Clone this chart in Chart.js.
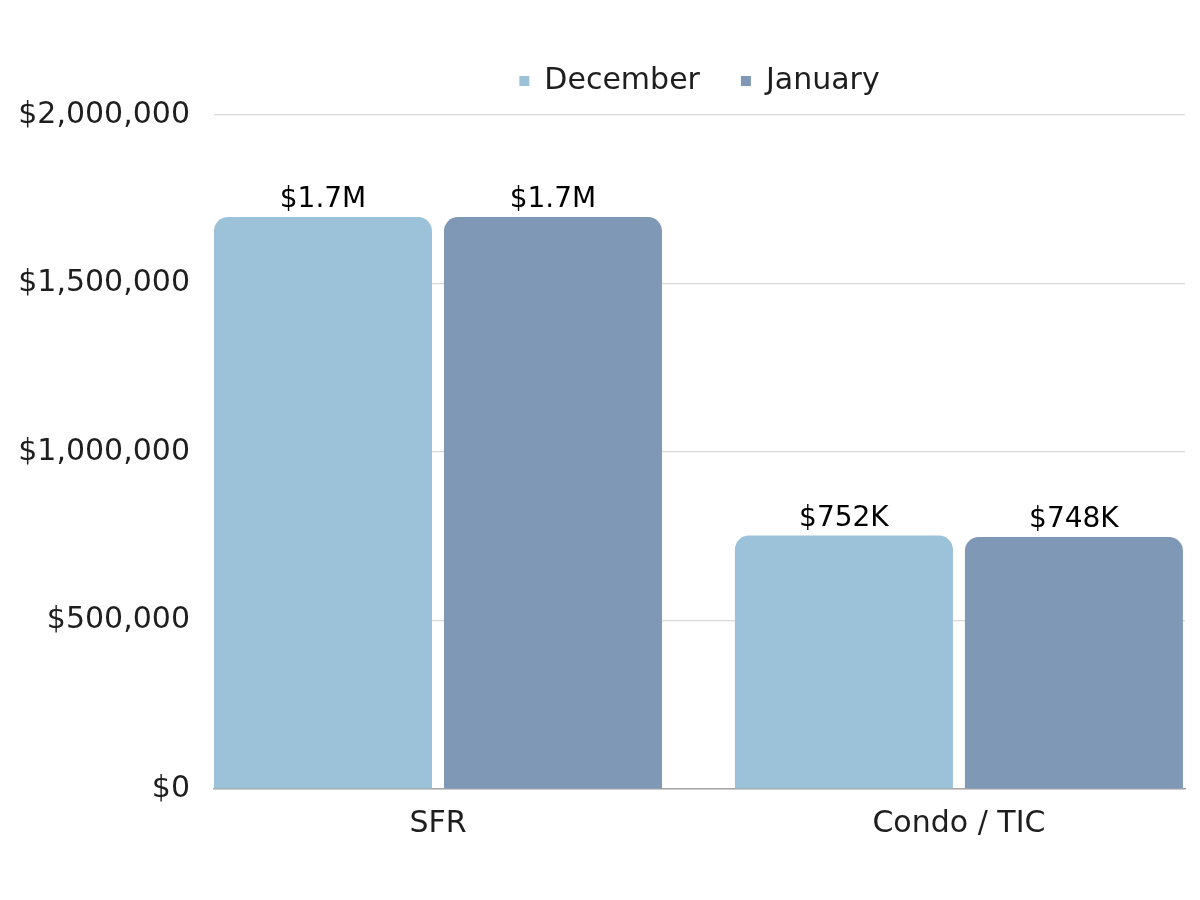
<!DOCTYPE html>
<html>
<head>
<meta charset="utf-8">
<style>
  html, body { margin: 0; padding: 0; background: #fff; }
  #wrap { width: 1200px; height: 900px; }
</style>
<script src="https://cdn.jsdelivr.net/npm/chart.js@4/dist/chart.umd.min.js"></script>
</head>
<body>
<div id="wrap"><canvas id="myChart" width="1200" height="900"></canvas></div>
<script>
const categories = ["SFR", "Condo / TIC"];
const seriesNames = ["December", "January"];
const decemberValues = [1697000, 752000];
const januaryValues = [1697000, 748000];
const yTicks = [0, 500000, 1000000, 1500000, 2000000];

const FONT = "'DejaVu Sans', sans-serif";
const TEXT = "#1e1e1e";

function shortMoney(v) {
  if (v >= 1000000) return "$" + (v / 1000000).toFixed(1) + "M";
  return "$" + Math.round(v / 1000) + "K";
}

const barLabels = {
  id: "barLabels",
  afterDatasetsDraw(chart) {
    const ctx = chart.ctx;
    ctx.save();
    ctx.font = "28px " + FONT;
    ctx.fillStyle = "#000";
    ctx.textAlign = "center";
    ctx.textBaseline = "bottom";
    chart.data.datasets.forEach((ds, i) => {
      chart.getDatasetMeta(i).data.forEach((bar, j) => {
        ctx.fillText(shortMoney(ds.data[j].y), bar.x, bar.y - 3);
      });
    });
    ctx.restore();
  }
};

// legend gets a fixed height so the plot top lands on the 2M line
const legendHeight = {
  id: "legendHeight",
  beforeInit(chart) {
    const fit = chart.legend.fit;
    chart.legend.fit = function () {
      fit.call(this);
      this.height = 90;
    };
  }
};

const ctx = document.getElementById("myChart");
new Chart(ctx, {
  type: "bar",
  data: {
    datasets: [
      {
        label: seriesNames[0],
        data: decemberValues.map((v, i) => ({ x: i, y: v })),
        backgroundColor: "#9bc2d8"
      },
      {
        label: seriesNames[1],
        data: januaryValues.map((v, i) => ({ x: i, y: v })),
        backgroundColor: "#7f98b5"
      }
    ]
  },
  options: {
    responsive: false,
    animation: false,
    layout: { padding: { top: 25, left: 0, right: 15, bottom: 0 } },
    datasets: {
      bar: {
        categoryPercentage: 0.883,
        barPercentage: 0.948,
        borderRadius: { topLeft: 14, topRight: 14, bottomLeft: 0, bottomRight: 0 },
        borderSkipped: "bottom"
      }
    },
    plugins: {
      legend: {
        position: "top",
        fullSize: false,
        labels: {
          boxWidth: 10,
          boxHeight: 10,
          padding: 41,
          color: TEXT,
          font: { family: FONT, size: 30 }
        }
      },
      tooltip: { enabled: false }
    },
    scales: {
      x: {
        type: "linear",
        offset: false,
        min: -0.43,
        max: 1.434,
        afterBuildTicks: s => { s.ticks = categories.map((c, i) => ({ value: i })); },
        afterFit: s => { s.height = 111; },
        grid: { display: false },
        border: { display: true, color: "#a6a6a6", width: 1.5 },
        ticks: {
          padding: 9,
          color: TEXT,
          font: { family: FONT, size: 30 },
          callback: v => categories[v]
        }
      },
      y: {
        min: 0,
        max: 2000000,
        afterBuildTicks: s => { s.ticks = yTicks.map(v => ({ value: v })); },
        afterFit: s => { s.width = 214; },
        grid: { color: "#d9d9d9", lineWidth: 1.2, drawTicks: false },
        border: { display: false },
        ticks: {
          padding: 24,
          color: TEXT,
          font: { family: FONT, size: 30 },
          callback: v => "$" + v.toLocaleString("en-US")
        }
      }
    }
  },
  plugins: [barLabels, legendHeight]
});
</script>
</body>
</html>
